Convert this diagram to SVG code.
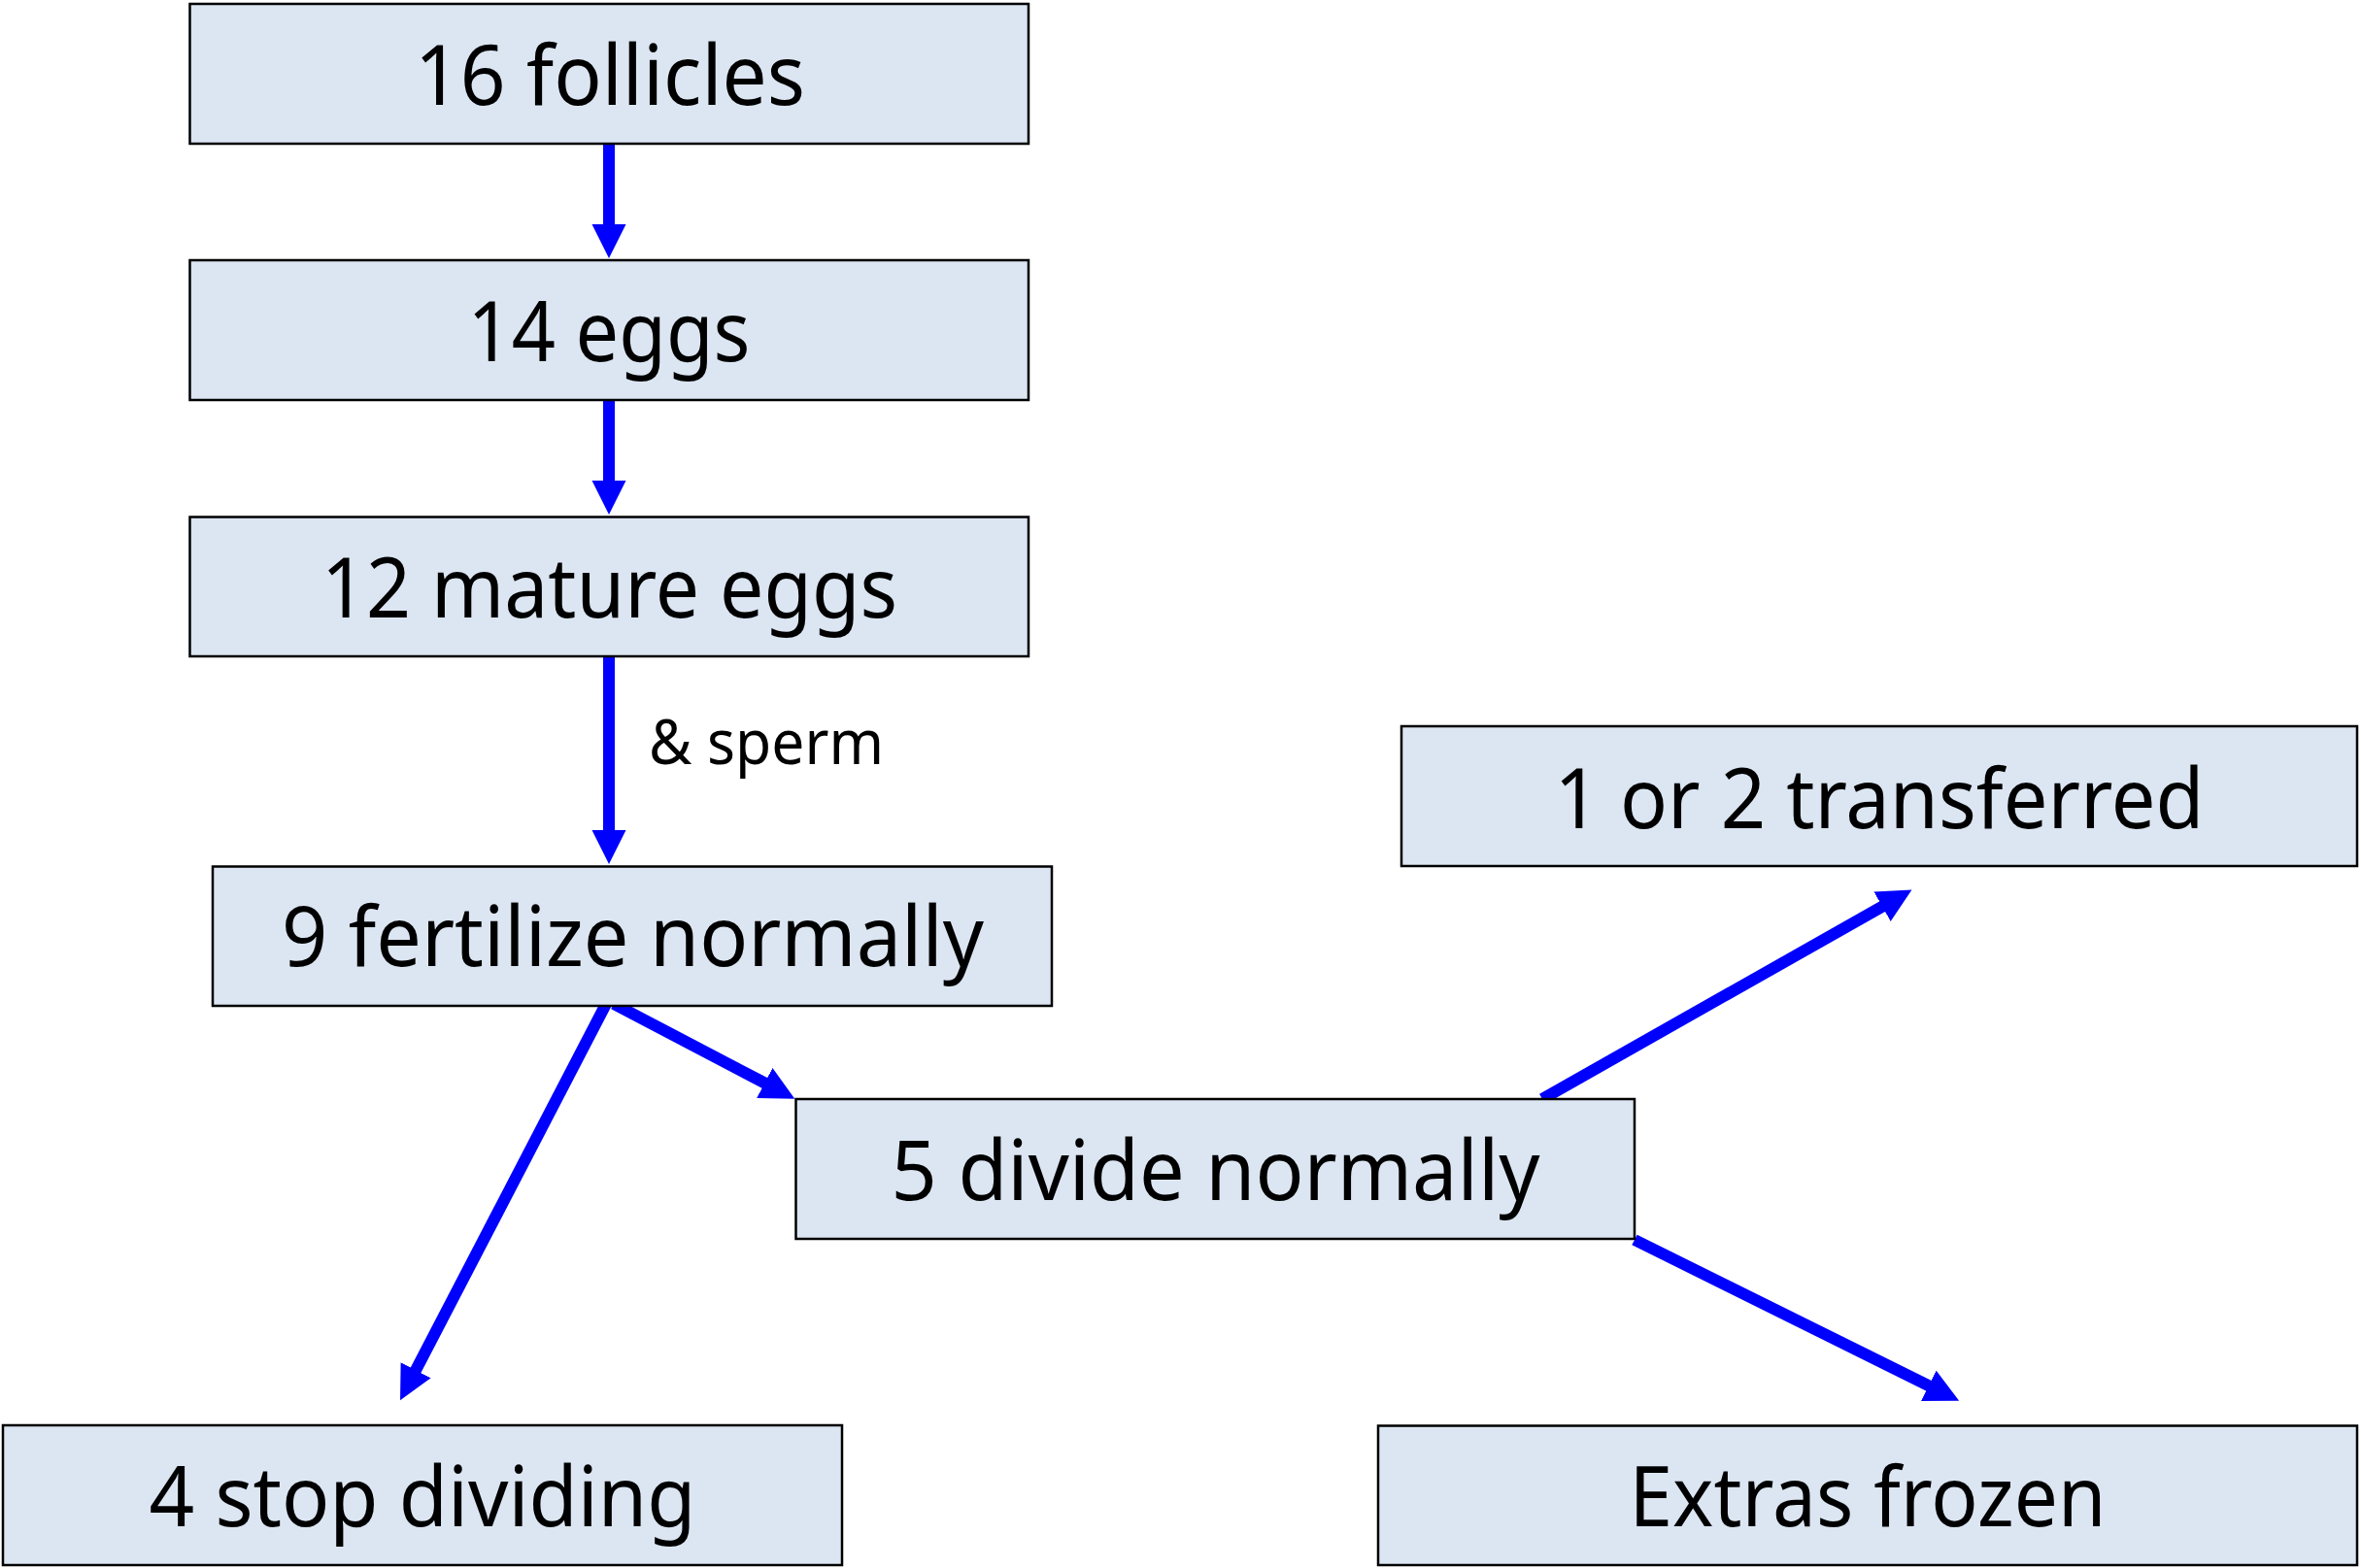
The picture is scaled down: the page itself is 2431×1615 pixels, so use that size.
<svg xmlns="http://www.w3.org/2000/svg" width="2431" height="1615" viewBox="0 0 2431 1615">
  <style>
    .box { fill: #DCE6F2; stroke: #000000; stroke-width: 2.5; }
    .label { font-family: "Noto Sans", "Open Sans", "Liberation Sans", sans-serif; font-size: 85.5px; fill: #000000; text-anchor: middle; }
    .note { font-family: "Noto Sans", "Open Sans", "Liberation Sans", sans-serif; font-size: 63px; fill: #000000; }
    .link { fill: none; stroke: #0000FF; stroke-width: 12; stroke-linecap: butt; marker-end: url(#head); }
  </style>
  <defs>
    <marker id="head" markerUnits="userSpaceOnUse" markerWidth="36" markerHeight="36" refX="1" refY="17.5" orient="auto">
      <path d="M0,0 L35,17.5 L0,35 Z" fill="#0000FF"/>
    </marker>
  </defs>

  <rect x="0" y="0" width="2431" height="1615" fill="#FFFFFF"/>

  <!-- connectors -->
  <g id="connectors">
    <line class="link" x1="627" y1="148" x2="627" y2="232"/>
    <line class="link" x1="627" y1="412" x2="627" y2="496"/>
    <line class="link" x1="627" y1="676" x2="627" y2="856"/>
    <text class="note" x="668" y="787" textLength="242" lengthAdjust="spacingAndGlyphs">&amp; sperm</text>
    <line class="link" x1="624" y1="1034" x2="427.7" y2="1412.1"/>
    <line class="link" x1="632" y1="1034" x2="788.2" y2="1115.9"/>
    <line class="link" x1="1588" y1="1132" x2="1938.9" y2="933.2"/>
    <line class="link" x1="1683" y1="1277" x2="1986.7" y2="1427.7"/>
  </g>

  <!-- nodes -->
  <g id="follicles">
    <rect class="box" x="195.5" y="4" width="863.5" height="144"/>
    <text class="label" x="628" y="108" textLength="402" lengthAdjust="spacingAndGlyphs">16 follicles</text>
  </g>
  <g id="eggs">
    <rect class="box" x="195.5" y="268" width="863.5" height="144"/>
    <text class="label" x="627" y="372" textLength="291" lengthAdjust="spacingAndGlyphs">14 eggs</text>
  </g>
  <g id="mature-eggs">
    <rect class="box" x="195.5" y="532.5" width="863.5" height="143.5"/>
    <text class="label" x="627.5" y="636" textLength="593" lengthAdjust="spacingAndGlyphs">12 mature eggs</text>
  </g>
  <g id="fertilized">
    <rect class="box" x="219" y="892.5" width="864" height="143.5"/>
    <text class="label" x="651.5" y="995" textLength="723" lengthAdjust="spacingAndGlyphs">9 fertilize normally</text>
  </g>
  <g id="dividing">
    <rect class="box" x="819.5" y="1132" width="863.5" height="144"/>
    <text class="label" x="1251.5" y="1236" textLength="668" lengthAdjust="spacingAndGlyphs">5 divide normally</text>
  </g>
  <g id="transferred">
    <rect class="box" x="1443" y="748" width="984" height="144"/>
    <text class="label" x="1935" y="853" textLength="669" lengthAdjust="spacingAndGlyphs">1 or 2 transferred</text>
  </g>
  <g id="stopped">
    <rect class="box" x="3" y="1468" width="864" height="144"/>
    <text class="label" x="435" y="1572" textLength="563" lengthAdjust="spacingAndGlyphs">4 stop dividing</text>
  </g>
  <g id="frozen">
    <rect class="box" x="1419" y="1468.5" width="1008" height="143.5"/>
    <text class="label" x="1923" y="1572" textLength="491" lengthAdjust="spacingAndGlyphs">Extras frozen</text>
  </g>
</svg>
